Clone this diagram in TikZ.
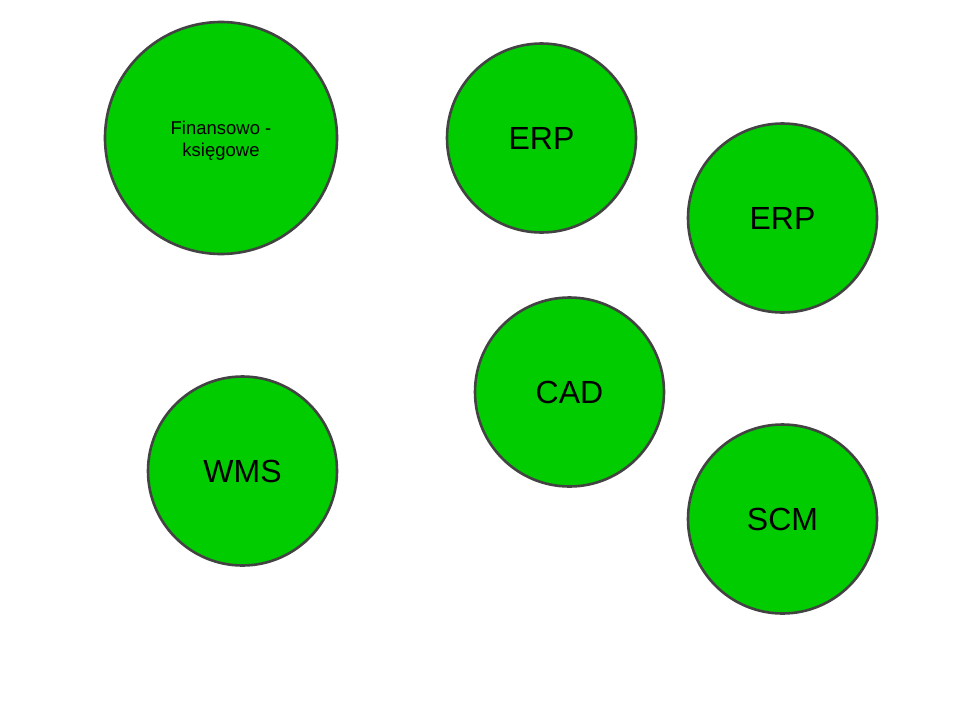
\documentclass[tikz,border=0pt]{standalone}
\usepackage{fontspec}
\setmainfont{Liberation Sans}
\definecolor{nodegreen}{HTML}{00CC00}
\definecolor{rimgray}{HTML}{434343}
\begin{document}
\begin{tikzpicture}[x=1pt,y=-1pt,
  bubble/.style={circle,draw=rimgray,line width=2.6pt,fill=nodegreen,inner sep=0pt,align=center,text=black},
  big/.style={font=\fontsize{32}{38}\selectfont},
  small/.style={font=\fontsize{18.5}{22}\selectfont}]
\useasboundingbox (0,0) rectangle (960,720);
\node[bubble,minimum size=232pt] (fin) at (221,138) {};
\node[small,align=center,inner sep=0pt] (fintext) at (221,141) {Finansowo -\\księgowe};
\node[bubble,big,minimum size=189pt] (erp1) at (541.5,138) {ERP};
\node[bubble,big,minimum size=189pt] (erp2) at (782.5,218) {ERP};
\node[bubble,big,minimum size=189pt] (cad) at (569.5,392) {CAD};
\node[bubble,big,minimum size=189pt] (wms) at (242.5,471) {WMS};
\node[bubble,big,minimum size=189pt] (scm) at (782.5,519) {SCM};
\end{tikzpicture}
\end{document}
